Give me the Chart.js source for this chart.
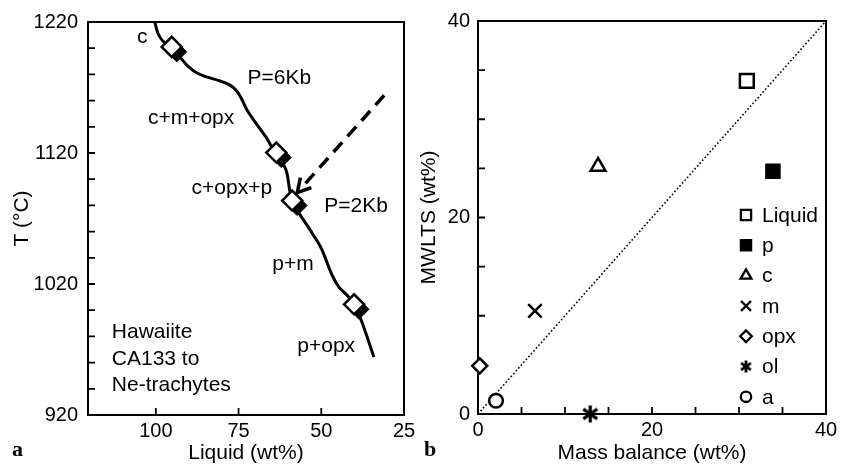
<!DOCTYPE html>
<html>
<head>
<meta charset="utf-8">
<script src="https://cdn.jsdelivr.net/npm/chart.js@4.4.1/dist/chart.umd.min.js"></script>
<style>
  body { margin: 0; background: #fff; }
  #wrap { position: relative; width: 850px; height: 470px; overflow: hidden; }
  canvas { position: absolute; top: 0; }
  .tag { position: absolute; font: bold 22px "Liberation Serif", "DejaVu Serif", serif; line-height: 22px; color: #000; }
</style>
</head>
<body>
<div id="wrap">
  <canvas id="chartA" width="420" height="470" style="left:0"></canvas>
  <canvas id="chartB" width="430" height="470" style="left:420px"></canvas>
  <div class="tag" style="left:12px;top:438px">a</div>
  <div class="tag" style="left:424px;top:438px">b</div>
</div>
<script>
// ---- panel a : liquid line, Hawaiite CA133 to Ne-trachytes
const liquidPct = [100.3, 99.4, 97.9, 95.2, 92.2, 90.4, 87.7, 84.7, 80.7, 77.7, 75.6, 74.1, 72.3, 69.6, 66.6, 64.8, 63.6, 60.6, 58.8, 52.7, 50.0, 46.7, 44.6, 42.2, 40.1, 37.7, 34.1];
const liquidT   = [1220, 1211.6, 1205.5, 1201, 1191.8, 1186.5, 1181.2, 1178.1, 1175.1, 1172, 1167.5, 1161.4, 1152.2, 1142.3, 1131.7, 1124, 1120.3, 1106.6, 1083.7, 1058.6, 1047.2, 1026.6, 1017.5, 1011.4, 1004.5, 990.8, 964.2];
// experiment points on the curve (open diamond, filled one just behind)
const runPct = [95.2, 63.6, 58.8, 40.1];
const runT   = [1201, 1120.3, 1083.7, 1004.5];
const runShiftPct = -1.5, runShiftT = -3.8;
// dashed arrow P=6Kb -> P=2Kb
const arrowPct = [31.0, 55.1];
const arrowT   = [1164, 1095.9];
const headPct  = [56.3, 57.25, 53.0];
const headT    = [1101.2, 1089.8, 1093.6];
// phase field notes
const noteText = ['c', 'P=6Kb', 'c+m+opx', 'c+opx+p', 'P=2Kb', 'p+m', 'p+opx', 'Hawaiite', 'CA133 to', 'Ne-trachytes'];
const notePct  = [105.7, 72.3, 102.4, 89.2, 49.1, 64.8, 57.25, 113.3, 113.3, 113.3];
const noteT    = [1204, 1172.8, 1142.3, 1089, 1074.6, 1030.4, 968, 978.6, 958.1, 938.5];
const aXTicks = [100, 75, 50, 25];
const aYTicks = [920, 940, 960, 980, 1000, 1020, 1040, 1060, 1080, 1100, 1120, 1140, 1160, 1180, 1200, 1220];
const aYLabels = [920, 1020, 1120, 1220];

// ---- panel b : MWLTS vs mass balance
const phases      = ['Liquid', 'p', 'c', 'm', 'opx', 'ol', 'a'];
const massBalance = [30.9, 33.9, 13.8, 6.55, 0.2, 12.9, 2.07];
const mwlts       = [33.9, 24.7, 25.2, 10.5, 4.9, 0.0, 1.35];
const oneToOne    = [0, 40];
const bTicks  = [0, 5, 10, 15, 20, 25, 30, 35, 40];
const bLabels = [0, 20, 40];

const FONT = '"Liberation Sans", Arial, Helvetica, sans-serif';
Chart.defaults.font.family = FONT;
Chart.defaults.font.size = 20;
Chart.defaults.color = '#000';
const titleFont = { size: 21 };

function asterisk(size, lw) {
  const c = document.createElement('canvas');
  c.width = c.height = size;
  const g = c.getContext('2d');
  g.strokeStyle = '#000';
  g.lineWidth = lw;
  const m = size / 2, r = size / 2 - 1;
  [90, 35, 145].forEach(a => {
    const dx = Math.cos(a * Math.PI / 180) * r, dy = Math.sin(a * Math.PI / 180) * r;
    g.beginPath(); g.moveTo(m - dx, m - dy); g.lineTo(m + dx, m + dy); g.stroke();
  });
  return c;
}

// marker look per phase: [style, plot radius, legend radius, filled]
const phaseLook = {
  Liquid: ['rect', 9.8, 7.2, false],
  p:      ['rect', 9.2, 7.2, true],
  c:      ['triangle', 8.5, 6.2, false],
  m:      ['crossRot', 9.5, 7, false],
  opx:    ['rectRot', 7.5, 5.8, false],
  ol:     [asterisk(19, 3.2), 9, 6, false],
  a:      ['circle', 6.8, 5.2, false]
};
const olLegend = asterisk(14, 2.8);

const pair = (xs, ys) => xs.map((x, i) => ({x: x, y: ys[i]}));

// box + inward tick marks
const frameTicks = {
  id: 'frameTicks',
  beforeDatasetsDraw(chart) {
    const {ctx, chartArea: a, scales} = chart;
    ctx.save();
    ctx.strokeStyle = '#000';
    ctx.lineWidth = 2;
    ctx.strokeRect(a.left, a.top, a.right - a.left, a.bottom - a.top);
    ctx.lineWidth = 1.8;
    ctx.beginPath();
    scales.x.ticks.forEach(t => {
      const px = scales.x.getPixelForValue(t.value);
      ctx.moveTo(px, a.bottom); ctx.lineTo(px, a.bottom - 7);
    });
    scales.y.ticks.forEach(t => {
      const py = scales.y.getPixelForValue(t.value);
      ctx.moveTo(a.left, py); ctx.lineTo(a.left + 7, py);
    });
    ctx.stroke();
    ctx.restore();
  }
};

const notesA = {
  id: 'notesA',
  afterDatasetsDraw(chart) {
    const {ctx, scales} = chart;
    ctx.save();
    ctx.fillStyle = '#000';
    ctx.font = '21px ' + FONT;
    ctx.textAlign = 'left';
    ctx.textBaseline = 'alphabetic';
    noteText.forEach((t, i) => {
      ctx.fillText(t, scales.x.getPixelForValue(notePct[i]), scales.y.getPixelForValue(noteT[i]));
    });
    ctx.restore();
  }
};

const legendB = {
  id: 'legendB',
  afterDraw(chart) {
    const {ctx, chartArea: a} = chart;
    ctx.save();
    ctx.font = '21px ' + FONT;
    ctx.textBaseline = 'middle';
    ctx.textAlign = 'left';
    phases.forEach((name, i) => {
      const look = phaseLook[name];
      const y = a.top + 194 + i * 30.3;
      const x = a.right - 80;
      ctx.fillStyle = look[3] ? '#000' : '#fff';
      ctx.strokeStyle = '#000';
      ctx.lineWidth = 2.3;
      Chart.helpers.drawPoint(ctx, {
        pointStyle: name === 'ol' ? olLegend : look[0],
        radius: look[2], rotation: 0, borderWidth: 2.3
      }, x, y);
      ctx.fillStyle = '#000';
      ctx.fillText(name, x + 16, y + 1);
    });
    ctx.restore();
  }
};

function fixedAxis(size, isX) {
  return s => { if (isX) s.height = size; else s.width = size; };
}

new Chart(document.getElementById('chartA'), {
  type: 'scatter',
  data: {
    datasets: [
      {
        data: pair(runPct, runT), pointStyle: 'rectRot', pointRadius: 10,
        pointBackgroundColor: '#fff', pointBorderColor: '#000', pointBorderWidth: 2.5, clip: false
      },
      {
        data: pair(runPct.map(v => v + runShiftPct), runT.map(v => v + runShiftT)),
        pointStyle: 'rectRot', pointRadius: 10,
        pointBackgroundColor: '#000', pointBorderColor: '#000', pointBorderWidth: 1, clip: false
      },
      {
        data: pair(liquidPct, liquidT), showLine: true, tension: 0.3,
        borderColor: '#000', borderWidth: 3, pointRadius: 0, clip: false
      },
      {
        data: pair(arrowPct, arrowT), showLine: true, borderColor: '#000',
        borderWidth: 3.5, borderDash: [13, 8], pointRadius: 0
      },
      {
        data: pair(headPct, headT), showLine: true, borderColor: '#000',
        borderWidth: 3.5, pointRadius: 0
      }
    ]
  },
  options: {
    responsive: false, animation: false, events: [], devicePixelRatio: 1,
    layout: { padding: { left: 0, right: 16, top: 21, bottom: 0 } },
    plugins: { legend: { display: false }, tooltip: { enabled: false } },
    scales: {
      x: {
        type: 'linear', reverse: true, min: 25, max: 120.5,
        afterBuildTicks: s => { s.ticks = aXTicks.map(v => ({value: v})); },
        afterFit: fixedAxis(55, true),
        grid: { display: false, drawTicks: false },
        border: { display: true, color: '#000', width: 2 },
        ticks: { autoSkip: false, maxRotation: 0, padding: 4, color: '#000' },
        title: { display: true, text: 'Liquid (wt%)', font: titleFont, padding: { top: 0, bottom: 4 }, color: '#000' }
      },
      y: {
        type: 'linear', min: 920, max: 1220,
        afterBuildTicks: s => { s.ticks = aYTicks.map(v => ({value: v})); },
        afterFit: fixedAxis(88, false),
        grid: { display: false, drawTicks: false },
        border: { display: true, color: '#000', width: 2 },
        ticks: { autoSkip: false, padding: 10, color: '#000',
          callback: v => aYLabels.includes(v) ? String(v) : '' },
        title: { display: true, text: 'T (°C)', font: titleFont, padding: { top: 10, bottom: 0 }, color: '#000' }
      }
    }
  },
  plugins: [frameTicks, notesA]
});

const bSets = phases.map((name, i) => {
  const look = phaseLook[name];
  return {
    label: name,
    data: [{x: massBalance[i], y: mwlts[i]}],
    pointStyle: look[0], pointRadius: look[1], pointRotation: 0,
    pointBackgroundColor: look[3] ? '#000' : '#fff',
    pointBorderColor: '#000', pointBorderWidth: 2.5, clip: false
  };
});
bSets.push({
  label: '1:1',
  data: pair(oneToOne, oneToOne), showLine: true, borderColor: '#000',
  borderWidth: 1.6, borderDash: [1.6, 2.2], pointRadius: 0
});

new Chart(document.getElementById('chartB'), {
  type: 'scatter',
  data: { datasets: bSets },
  options: {
    responsive: false, animation: false, events: [], devicePixelRatio: 1,
    layout: { padding: { left: 0, right: 24, top: 21, bottom: 0 } },
    plugins: { legend: { display: false }, tooltip: { enabled: false } },
    scales: {
      x: {
        type: 'linear', min: 0, max: 40,
        afterBuildTicks: s => { s.ticks = bTicks.map(v => ({value: v})); },
        afterFit: fixedAxis(56, true),
        grid: { display: false, drawTicks: false },
        border: { display: true, color: '#000', width: 2 },
        ticks: { autoSkip: false, maxRotation: 0, padding: 4, color: '#000',
          callback: v => bLabels.includes(v) ? String(v) : '' },
        title: { display: true, text: 'Mass balance (wt%)', font: titleFont, padding: { top: 0, bottom: 4 }, color: '#000' }
      },
      y: {
        type: 'linear', min: 0, max: 40,
        afterBuildTicks: s => { s.ticks = bTicks.map(v => ({value: v})); },
        afterFit: fixedAxis(58, false),
        grid: { display: false, drawTicks: false },
        border: { display: true, color: '#000', width: 2 },
        ticks: { autoSkip: false, padding: 8, color: '#000',
          callback: v => bLabels.includes(v) ? String(v) : '' },
        title: { display: true, text: 'MWLTS (wt%)', font: titleFont, padding: { top: -3, bottom: 0 }, color: '#000' }
      }
    }
  },
  plugins: [frameTicks, legendB]
});
</script>
</body>
</html>
